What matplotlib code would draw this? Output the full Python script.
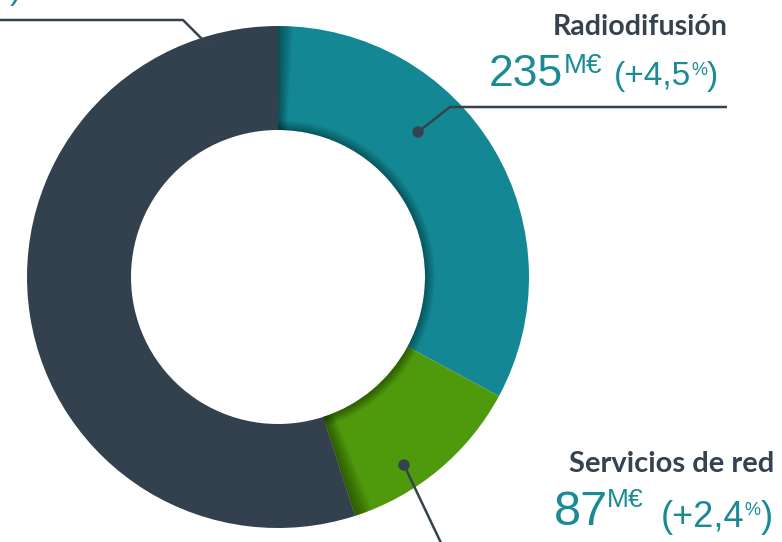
import matplotlib
matplotlib.use('Agg')
import matplotlib.pyplot as plt
from matplotlib.patches import Circle, Wedge

# data (M EUR)
labels = ['Infraestructuras', 'Radiodifusión', 'Servicios de red']
values = [393, 235, 87]
growth = ['', '+4,5', '+2,4']
colors = ['#33414e', '#138894', '#4f990d']

W, H = 782, 542
fig = plt.figure(figsize=(W / 100, H / 100), dpi=100)
ax = fig.add_axes([0, 0, 1, 1])

cx, cy = 278, H - 277
R = 251
wid = 104

# teal starts at 12 o'clock going clockwise, then green, then dark
order = [1, 2, 0]
wedges, _ = ax.pie([values[i] for i in order], colors=[colors[i] for i in order],
                   startangle=90, counterclock=False, center=(cx, cy), radius=R,
                   wedgeprops=dict(width=wid, linewidth=0))
ax.set_xlim(0, W)
ax.set_ylim(0, H)
ax.set_aspect('equal')
ax.axis('off')

# soft inner shadows like the original graphic
n = 12
teal_w, green_w, dark_w = wedges
for k in range(1, n + 1):
    d = 3.5 * k / n
    ax.add_patch(Wedge((cx, cy), R, teal_w.theta2 - d, teal_w.theta2, width=wid,
                       color='black', alpha=0.035, lw=0))
    ax.add_patch(Wedge((cx, cy), R, green_w.theta1, green_w.theta1 + d * 1.2, width=wid,
                       color='black', alpha=0.035, lw=0))
    rr = R - wid + 10 * k / n
    ax.add_patch(Wedge((cx, cy), rr, teal_w.theta1, teal_w.theta2, width=rr - (R - wid),
                       color='black', alpha=0.03, lw=0))
    ax.add_patch(Wedge((cx, cy), rr, green_w.theta1, green_w.theta2, width=rr - (R - wid),
                       color='black', alpha=0.035, lw=0))

dark = '#34434f'
teal = '#1a8b94'
fnum = ['Liberation Sans', 'DejaVu Sans']
flab = ['Lato', 'DejaVu Sans']


# leader lines (pixel coords, y from top)
def line(pts):
    ax.plot([p[0] for p in pts], [H - p[1] for p in pts], color=dark, lw=1.8,
            solid_capstyle='butt', zorder=5)


def dot(x, y):
    ax.add_patch(Circle((x, H - y), 5, color=dark, zorder=6))


line([(0, 20), (183, 20), (213, 50)])
line([(418, 132), (450, 107), (727, 107)])
dot(418, 132)
line([(404, 465), (442, 545)])
dot(404, 465)

fig.canvas.draw()
rend = fig.canvas.get_renderer()


def piece(x, y, s, size):
    t = ax.text(x, H - y, s, fontsize=size, color=teal, family=fnum,
                ha='left', va='baseline')
    return t.get_window_extent(renderer=rend).x1


# Radiodifusion
ax.text(728, H - 35, labels[1], fontsize=20.5, fontweight='bold', color=dark,
        family=flab, ha='right', va='baseline')
piece(489, 86, str(values[1]), 32)
piece(564, 73, 'M€', 20)
x = piece(614, 85, '(' + growth[1], 24)
x = piece(x, 75, '%', 13)
piece(x, 85, ')', 24)

# Servicios de red
ax.text(774, H - 472, labels[2], fontsize=21, fontweight='bold', color=dark,
        family=flab, ha='right', va='baseline')
piece(554, 525, str(values[2]), 35)
piece(607, 507, 'M€', 19)
x = piece(661, 527, '(' + growth[2], 26)
x = piece(x, 515, '%', 13)
piece(x, 527, ')', 26)

# closing bracket of the top-left label, which runs off the canvas
ax.text(10, H + 1, ')', fontsize=24, color=teal, family=fnum, ha='left', va='baseline')

fig.savefig('out.png', dpi=100)
